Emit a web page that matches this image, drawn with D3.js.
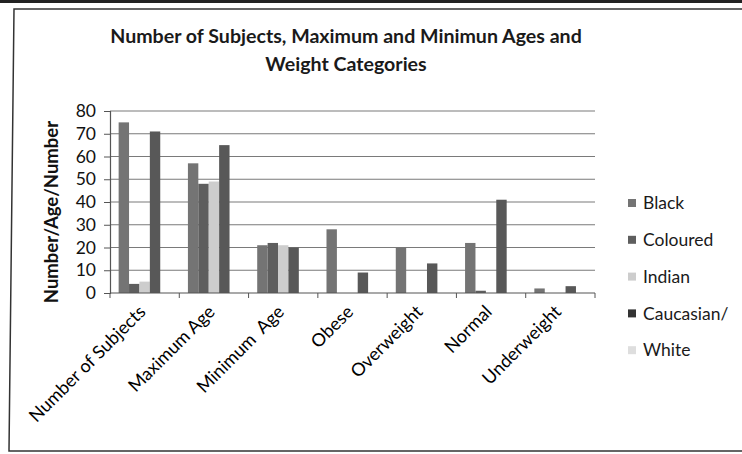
<!DOCTYPE html>
<html>
<head>
<meta charset="utf-8">
<script src="https://cdn.jsdelivr.net/npm/d3@7"></script>
<style>
  html, body { margin: 0; padding: 0; background: #fff; }
  svg { display: block; }
</style>
</head>
<body>
<svg id="chart"></svg>
<script>
const categories = ["Number of Subjects", "Maximum Age", "Minimum  Age", "Obese", "Overweight", "Normal", "Underweight"];
const seriesNames = ["Black", "Coloured", "Indian", "Caucasian/", "White"];
const black = [75, 57, 21, 28, 20, 22, 2];
const coloured = [4, 48, 22, 0, 0, 1, 0];
const indian = [5, 49, 21, 0, 0, 0, 0];
const caucasian = [71, 65, 20, 9, 13, 41, 3];
const white = [0, 0, 0, 0, 0, 0, 0];
const yTicks = [0, 10, 20, 30, 40, 50, 60, 70, 80];

const seriesValues = [black, coloured, indian, caucasian, white];
const seriesColors = ["#747474", "#5e5e5e", "#cdcdcd", "#585858", "#dedede"];

const width = 742, height = 454;
const font = "Lato, 'Open Sans', sans-serif";

const svg = d3.select("#chart")
    .attr("width", width)
    .attr("height", height)
    .style("font-family", font);

// scanned page edge + chart frame
svg.append("rect").attr("x", 0).attr("y", 0).attr("width", width).attr("height", 3).attr("fill", "#222");
svg.append("path")
    .attr("d", "M742,9 L14,9 L9,451 L742,451")
    .attr("fill", "none")
    .attr("stroke", "#333")
    .attr("stroke-width", 1.5);

const plot = { left: 110, right: 595, top: 111, bottom: 293 };

const x0 = d3.scaleBand()
    .domain(categories)
    .range([plot.left, plot.right])
    .paddingInner(0)
    .paddingOuter(0);

const x1 = d3.scaleBand()
    .domain(seriesNames)
    .range([0, x0.bandwidth()])
    .paddingInner(0)
    .paddingOuter(0.83);

const y = d3.scaleLinear()
    .domain([0, 80])
    .range([plot.bottom, plot.top]);

const color = d3.scaleOrdinal().domain(seriesNames).range(seriesColors);

// gridlines
svg.append("g")
    .selectAll("line")
    .data(yTicks.filter(d => d > 0))
    .join("line")
    .attr("x1", plot.left)
    .attr("x2", plot.right)
    .attr("y1", d => y(d))
    .attr("y2", d => y(d))
    .attr("stroke", "#7a7a7a")
    .attr("stroke-width", 1.2);

// bars
const rows = categories.map((c, i) => ({
    category: c,
    values: seriesNames.map((s, j) => ({ series: s, value: seriesValues[j][i] }))
}));

svg.append("g")
    .selectAll("g")
    .data(rows)
    .join("g")
    .attr("transform", d => `translate(${x0(d.category)},0)`)
    .selectAll("rect")
    .data(d => d.values)
    .join("rect")
    .attr("x", d => x1(d.series))
    .attr("y", d => y(d.value))
    .attr("width", x1.bandwidth())
    .attr("height", d => y(0) - y(d.value))
    .attr("fill", d => color(d.series));

// y axis
const yAxis = svg.append("g")
    .attr("transform", `translate(${plot.left},0)`)
    .call(d3.axisLeft(y).tickValues(yTicks).tickSize(6).tickPadding(8));
yAxis.select(".domain").attr("stroke", "#555").attr("stroke-width", 1.2);
yAxis.selectAll(".tick line").attr("stroke", "#555");
yAxis.selectAll(".tick text")
    .attr("font-size", 17.5)
    .attr("font-family", font)
    .attr("fill", "#111");

// x axis: ticks at category boundaries
const xAxis = svg.append("g").attr("transform", `translate(0,${plot.bottom})`);
xAxis.append("line")
    .attr("x1", plot.left).attr("x2", plot.right)
    .attr("stroke", "#555").attr("stroke-width", 1.2);
xAxis.selectAll(".bound")
    .data(categories.map(c => x0(c)).concat([plot.right]))
    .join("line")
    .attr("class", "bound")
    .attr("x1", d => d).attr("x2", d => d)
    .attr("y1", 0).attr("y2", 5)
    .attr("stroke", "#555");

xAxis.selectAll(".catLabel")
    .data(categories)
    .join("text")
    .attr("class", "catLabel")
    .attr("transform", d => `translate(${x0(d) + x0.bandwidth() / 2 + 2},${20}) rotate(-45)`)
    .attr("text-anchor", "end")
    .attr("font-size", 18)
    .attr("fill", "#000")
    .style("white-space", "pre")
    .text(d => d);

// y title
svg.append("text")
    .attr("transform", "translate(58,212) rotate(-90)")
    .attr("text-anchor", "middle")
    .attr("font-size", 18.5)
    .attr("font-weight", "bold")
    .attr("fill", "#111")
    .text("Number/Age/Number");

// title
const titleLines = ["Number of Subjects, Maximum and Minimun Ages and", "Weight Categories"];
svg.append("g")
    .selectAll("text")
    .data(titleLines)
    .join("text")
    .attr("x", 346)
    .attr("y", (d, i) => 43 + i * 28)
    .attr("text-anchor", "middle")
    .attr("font-size", 19.6)
    .attr("font-weight", "bold")
    .attr("fill", "#1a1a1a")
    .text(d => d);

// legend
const legend = svg.append("g")
    .selectAll("g")
    .data(seriesNames)
    .join("g")
    .attr("transform", (d, i) => `translate(628,${203 + i * 36.8})`);
legend.append("rect")
    .attr("x", 0).attr("y", -4)
    .attr("width", 8).attr("height", 8)
    .attr("fill", d => d === "Caucasian/" ? "#333" : color(d));
legend.append("text")
    .attr("x", 15)
    .attr("dy", "0.35em")
    .attr("font-size", 17.5)
    .attr("fill", "#1a1a1a")
    .text(d => d);
</script>
</body>
</html>
